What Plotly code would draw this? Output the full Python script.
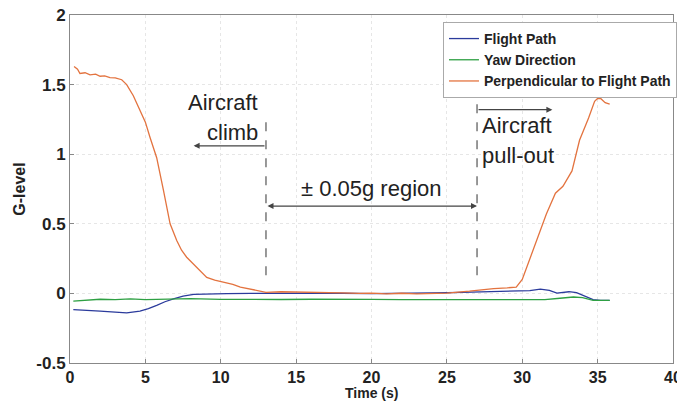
import plotly.graph_objects as go

# Perpendicular to flight path (orange)
perp_t = [0.27, 0.5, 0.66, 1.0, 1.33, 1.7, 2.0, 2.3, 2.65, 3.0, 3.43, 3.76, 4.2, 4.64, 5.0, 5.31, 5.75,
          6.2, 6.64, 7.08, 7.4, 7.74, 8.1, 8.4, 8.7, 9.07, 9.6, 10.2, 10.8, 11.3, 12.0, 12.6, 13.0,
          14.0, 15.0, 16.0, 17.0, 18.0, 19.2, 20.0, 21.0, 22.0, 23.0, 24.0, 25.0, 26.5, 28.1, 29.0,
          29.6, 30.0, 30.3, 30.97, 31.6, 32.2, 32.7, 33.3, 33.8, 34.4, 34.8, 35.0, 35.2, 35.5, 35.8]
perp_g = [1.63, 1.61, 1.58, 1.585, 1.57, 1.575, 1.56, 1.562, 1.55, 1.548, 1.535, 1.50, 1.42, 1.31, 1.23, 1.12, 0.975,
          0.74, 0.50, 0.38, 0.31, 0.26, 0.22, 0.19, 0.15, 0.115, 0.095, 0.08, 0.065, 0.045, 0.03, 0.012, 0.008,
          0.012, 0.01, 0.013, 0.008, 0.004, 0.0, 0.002, -0.003, 0.001, -0.004, 0.0, 0.002, 0.016, 0.035, 0.04,
          0.045, 0.10, 0.19, 0.38, 0.57, 0.72, 0.77, 0.88, 1.10, 1.26, 1.38, 1.40, 1.40, 1.37, 1.36]

# Flight path (blue)
fp_t = [0.22, 1.0, 2.0, 3.0, 3.76, 4.64, 5.2, 5.75, 6.3, 6.86, 7.5, 8.2, 9.0, 10.4, 12.0, 14.0, 16.0,
        18.0, 20.0, 22.0, 24.0, 26.0, 28.0, 29.5, 30.5, 31.2, 31.8, 32.3, 33.1, 33.6, 34.2, 34.7, 35.2, 35.8]
fp_g = [-0.117, -0.12, -0.127, -0.135, -0.14, -0.127, -0.11, -0.086, -0.06, -0.04, -0.02, -0.007, -0.004, -0.002, 0.0, 0.002, 0.0,
        0.001, -0.001, 0.0, 0.003, 0.008, 0.012, 0.015, 0.02, 0.03, 0.022, 0.002, 0.012, 0.005, -0.02, -0.045, -0.05, -0.05]

# Yaw direction (green)
yaw_t = [0.22, 1.0, 2.0, 3.0, 4.0, 5.0, 6.0, 7.0, 8.0, 10.0, 12.0, 14.0, 16.0, 18.0, 20.0, 22.0, 24.0,
         26.0, 28.0, 30.0, 31.5, 32.5, 33.4, 34.0, 34.7, 35.2, 35.8]
yaw_g = [-0.055, -0.05, -0.042, -0.045, -0.04, -0.045, -0.042, -0.04, -0.038, -0.043, -0.045, -0.044, -0.042, -0.045, -0.043, -0.045, -0.044,
         -0.043, -0.045, -0.044, -0.045, -0.035, -0.026, -0.03, -0.05, -0.05, -0.05]

x_ticks = [0, 5, 10, 15, 20, 25, 30, 35, 40]
x_tick_labels = ["0", "5", "10", "15", "20", "25", "30", "35", "40"]
y_ticks = [-0.5, 0, 0.5, 1, 1.5, 2]
y_tick_labels = ["-0.5", "0", "0.5", "1", "1.5", "2"]

fig = go.Figure()
fig.add_trace(go.Scatter(x=fp_t, y=fp_g, mode="lines", name="Flight Path",
                         line=dict(color="#2b3b9c", width=1.3)))
fig.add_trace(go.Scatter(x=yaw_t, y=yaw_g, mode="lines", name="Yaw Direction",
                         line=dict(color="#2ea043", width=1.3)))
fig.add_trace(go.Scatter(x=perp_t, y=perp_g, mode="lines", name="Perpendicular to Flight Path",
                         line=dict(color="#e3733f", width=1.3)))

dash_line = dict(color="#555555", width=1.2, dash="dash")
fig.add_shape(type="line", x0=13, x1=13, y0=0.13, y1=1.23, line=dash_line)
fig.add_shape(type="line", x0=27, x1=27, y0=0.13, y1=1.40, line=dash_line)

arrow_common = dict(text="", showarrow=True, axref="x", ayref="y", xref="x", yref="y",
                    arrowhead=2, arrowsize=1, arrowwidth=1.2, arrowcolor="#444444")
fig.add_annotation(x=8.2, y=1.06, ax=13, ay=1.06, **arrow_common)
fig.add_annotation(x=32.0, y=1.32, ax=27, ay=1.32, **arrow_common)
fig.add_annotation(x=27, y=0.627, ax=13, ay=0.627, arrowside="end+start", **arrow_common)

txt_font = dict(family="Liberation Sans, Arial", size=22, color="#222222")
fig.add_annotation(x=13, y=1.369, text="Aircraft", showarrow=False, xanchor="right",
                   xshift=-6, font=txt_font)
fig.add_annotation(x=13, y=1.154, text="climb", showarrow=False, xanchor="right",
                   xshift=-6, font=txt_font)
fig.add_annotation(x=27, y=1.204, text="Aircraft", showarrow=False, xanchor="left",
                   xshift=3, font=txt_font)
fig.add_annotation(x=27, y=0.989, text="pull-out", showarrow=False, xanchor="left",
                   xshift=3, font=txt_font)
fig.add_annotation(x=20, y=0.753, text="± 0.05g region", showarrow=False, font=txt_font)

# x-axis title placed below the tick labels
title_font = dict(family="Liberation Sans, Arial", size=16, color="#222222", weight="bold")
fig.add_annotation(x=0.5, y=0, xref="paper", yref="paper", yshift=-20, yanchor="top",
                   text="Time (s)", showarrow=False, font=dict(title_font, size=14))

axis_font = dict(family="Liberation Sans, Arial", size=16, color="#222222", weight="bold")
fig.update_xaxes(range=[0, 40], tickvals=x_ticks, ticktext=x_tick_labels, showgrid=True,
                 gridcolor="#e6e6e6", griddash="dot", showline=True, linecolor="#888888", mirror=True,
                 ticks="inside", ticklen=4, tickcolor="#888888", zeroline=False,
                 tickfont=axis_font, automargin=False, ticklabeloverflow="allow")
fig.update_yaxes(range=[-0.5, 2], tickvals=y_ticks, ticktext=y_tick_labels,
                 showgrid=True, gridcolor="#e6e6e6", griddash="dot", showline=True,
                 linecolor="#888888", mirror=True, ticks="inside", ticklen=4, tickcolor="#888888",
                 zeroline=False, tickfont=dict(axis_font, size=17), automargin=False,
                 ticklabeloverflow="allow",
                 title=dict(text="G-level", font=title_font, standoff=6))

# page body adds an 8px offset, so the figure is sized/margined to compensate
fig.update_layout(
    width=677, height=394,
    margin=dict(l=62, r=12, t=7, b=39, autoexpand=False),
    paper_bgcolor="white", plot_bgcolor="white",
    font=dict(family="Liberation Sans, Arial"),
    legend=dict(x=1.0066, y=0.98, xanchor="right", yanchor="top",
                bgcolor="white", bordercolor="#aaaaaa", borderwidth=1,
                font=dict(family="Liberation Sans, Arial", size=14, color="#222222", weight="bold"),
                tracegroupgap=0, itemwidth=30),
)

fig.write_html("out.html")
